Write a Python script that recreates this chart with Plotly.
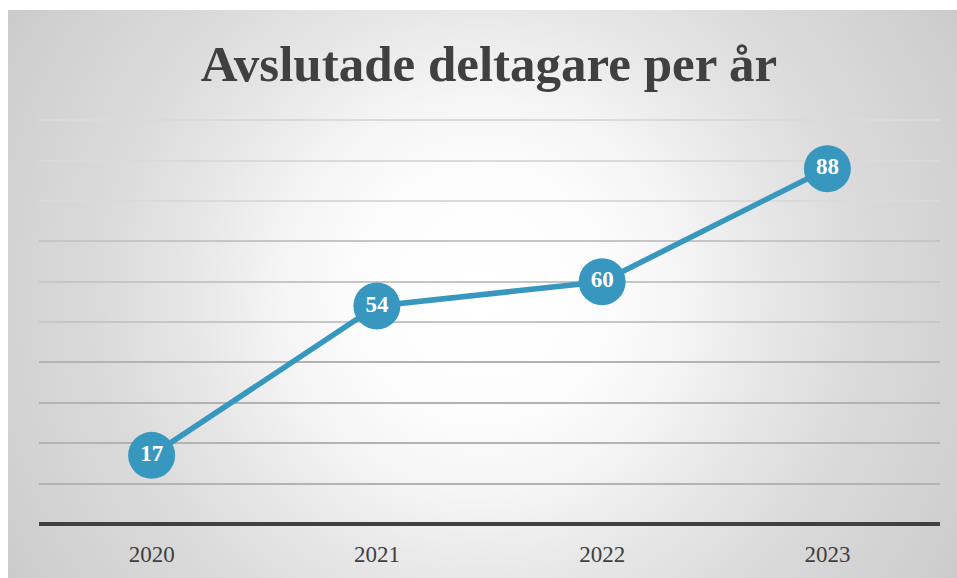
import plotly.graph_objects as go

years = ["2020", "2021", "2022", "2023"]
participants = [17, 54, 60, 88]

TITLE = "Avslutade deltagare per år"
LINE_COLOR = "#3797BF"
TEXT_COLOR = "#404040"
SERIF = "Liberation Serif, DejaVu Serif, serif"

W, H = 957, 578
PANEL_LEFT, PANEL_TOP = 8, 10  # white gap around the grey chart panel

fig = go.Figure()

# background panel: circular gradient, white in the middle, grey towards the corners
pw, ph = W - PANEL_LEFT, H - PANEL_TOP
cx, cy = pw / 2, ph / 2
r = (cx ** 2 + cy ** 2) ** 0.5
fig.add_trace(go.Scatter(
    x=[cx - r, cx + r, cx + r, cx - r, cx - r],
    y=[cy - r, cy - r, cy + r, cy + r, cy - r],
    xaxis="x", yaxis="y",
    mode="none", fill="toself",
    fillgradient=dict(type="radial", colorscale=[
        [0, "#ffffff"], [0.2, "#fdfdfd"], [0.35, "#f6f6f6"], [0.51, "#e8e8e8"],
        [0.7, "#dadada"], [0.86, "#d3d3d3"], [1, "#cbcbcb"]]),
    hoverinfo="skip", showlegend=False,
))

fig.add_trace(go.Scatter(
    x=years, y=participants,
    xaxis="x2", yaxis="y2",
    mode="lines+markers+text",
    line=dict(color=LINE_COLOR, width=5.5),
    marker=dict(size=47, color=LINE_COLOR),
    text=[str(v) for v in participants],
    textposition="middle center",
    textfont=dict(family=SERIF, size=23, color="white", weight="bold"),
    showlegend=False,
))
# empty traces so the overlaid grid axes get drawn
for ax in ["y3", "y4"]:
    fig.add_trace(go.Scatter(x=[], y=[], xaxis="x2", yaxis=ax, hoverinfo="skip", showlegend=False))

plot_dom_x = [39 / W, 940 / W]
plot_dom_y = [1 - 524 / H, 1 - 119 / H]
y_range = [0, 100.3]
grid_y = dict(range=y_range, showticklabels=False, ticks="", showgrid=True, gridwidth=1.6,
              fixedrange=True)

fig.update_layout(
    width=W, height=H,
    margin=dict(l=0, r=0, t=0, b=0),
    paper_bgcolor="white",
    plot_bgcolor="rgba(0,0,0,0)",
    title=dict(text=TITLE, x=489 / W, xanchor="center", y=1 - 63 / H, yanchor="middle",
               font=dict(family=SERIF, size=51, color=TEXT_COLOR, weight="bold")),
    xaxis=dict(domain=[PANEL_LEFT / W, 1], range=[0, pw], visible=False, fixedrange=True),
    yaxis=dict(domain=[0, 1 - PANEL_TOP / H], range=[0, ph], visible=False, fixedrange=True),
    xaxis2=dict(domain=plot_dom_x, anchor="y2", range=[-0.5, 3.5], fixedrange=True,
                showgrid=False, ticks="", showline=False, ticklabelstandoff=14,
                tickfont=dict(family=SERIF, size=23, color=TEXT_COLOR)),
    # gridlines fade from darker at the bottom to lighter at the top
    yaxis2=dict(grid_y, domain=plot_dom_y, anchor="x2", tickvals=[10, 20, 30, 40],
                gridcolor="#b3b3b3", zeroline=True, zerolinecolor="#404040", zerolinewidth=4),
    yaxis3=dict(grid_y, overlaying="y2", anchor="x2", tickvals=[50, 60, 70],
                gridcolor="#c6c6c6", zeroline=False),
    yaxis4=dict(grid_y, overlaying="y2", anchor="x2", tickvals=[80, 90, 100],
                gridcolor="#dadada", zeroline=False),
)

# drop the default 8px page margin so the figure fills the window exactly
fig.write_html("out.html", config={"displayModeBar": False},
               post_script="document.body.style.margin = '0';")
